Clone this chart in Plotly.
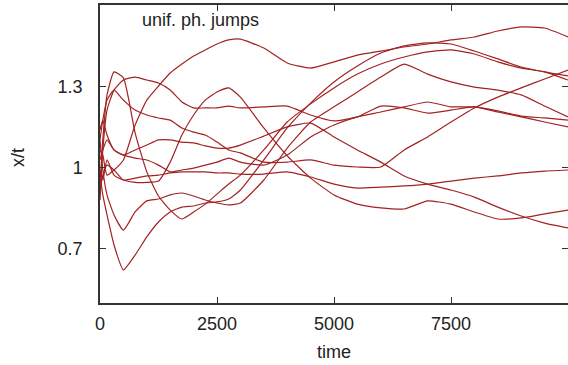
import plotly.graph_objects as go

# time grid (same for every run)
time = [0, 60, 150, 300, 500, 750, 1000, 1250, 1500, 1750, 2000, 2250, 2500, 2750,
        3000, 3500, 4000, 4500, 5000, 5500, 6000, 6500, 7000, 7500, 8000, 8500,
        9000, 9500, 10000]

# x/t for ten runs
run_01 = [1.065, 1.046, 0.972, 0.991, 1.028, 1.157, 1.249, 1.301, 1.349, 1.382, 1.412, 1.434, 1.456, 1.471,
          1.474, 1.441, 1.386, 1.367, 1.390, 1.415, 1.430, 1.445, 1.456, 1.471, 1.482, 1.504, 1.519, 1.515, 1.482]
run_02 = [0.935, 1.102, 1.268, 1.353, 1.331, 1.128, 0.984, 0.895, 0.843, 0.810, 0.836, 0.865, 0.902, 0.939,
          0.972, 1.065, 1.168, 1.235, 1.294, 1.345, 1.382, 1.408, 1.427, 1.434, 1.419, 1.390, 1.367, 1.353, 1.323]
run_03 = [0.991, 0.954, 1.028, 0.972, 0.954, 0.945, 0.945, 0.950, 1.020, 1.120, 1.194, 1.249, 1.279, 1.294,
          1.260, 1.146, 1.043, 0.961, 0.899, 0.865, 0.851, 0.847, 0.877, 0.865, 0.836, 0.810, 0.814, 0.829, 0.843]
run_04 = [1.028, 1.065, 1.102, 1.065, 1.046, 1.035, 1.028, 1.009, 0.984, 0.991, 0.998, 1.009, 1.020, 1.035,
          1.020, 1.009, 1.046, 1.113, 1.157, 1.187, 1.205, 1.224, 1.242, 1.224, 1.224, 1.205, 1.187, 1.168, 1.150]
run_05 = [0.880, 1.065, 1.212, 1.286, 1.323, 1.334, 1.323, 1.312, 1.286, 1.242, 1.220, 1.220, 1.220, 1.227,
          1.220, 1.224, 1.227, 1.194, 1.172, 1.187, 1.227, 1.220, 1.201, 1.212, 1.224, 1.209, 1.190, 1.183, 1.175]
run_06 = [0.972, 0.899, 0.825, 0.714, 0.622, 0.677, 0.744, 0.799, 0.836, 0.854, 0.858, 0.869, 0.873, 0.884,
          0.917, 1.028, 1.146, 1.238, 1.316, 1.375, 1.423, 1.449, 1.460, 1.456, 1.430, 1.401, 1.371, 1.353, 1.338]
run_07 = [1.102, 0.991, 0.899, 0.825, 0.769, 0.836, 0.877, 0.884, 0.899, 0.906, 0.895, 0.880, 0.869, 0.862,
          0.869, 0.954, 1.072, 1.168, 1.224, 1.279, 1.334, 1.382, 1.345, 1.316, 1.297, 1.286, 1.268, 1.227, 1.187]
run_08 = [0.917, 0.972, 1.009, 0.991, 0.954, 0.961, 0.969, 0.972, 0.980, 0.984, 0.984, 0.984, 0.980, 0.980,
          0.976, 0.976, 0.984, 0.965, 0.939, 0.924, 0.928, 0.932, 0.939, 0.950, 0.961, 0.969, 0.980, 0.987, 0.991]
run_09 = [1.139, 1.175, 1.120, 1.065, 1.046, 1.065, 1.083, 1.102, 1.102, 1.094, 1.091, 1.080, 1.072, 1.072,
          1.083, 1.116, 1.150, 1.164, 1.113, 1.065, 1.020, 0.969, 0.939, 0.917, 0.891, 0.854, 0.821, 0.795, 0.777]
run_10 = [1.102, 1.175, 1.249, 1.286, 1.249, 1.212, 1.194, 1.183, 1.175, 1.146, 1.131, 1.120, 1.094, 1.065,
          1.054, 1.020, 1.020, 1.028, 1.009, 1.002, 1.002, 1.065, 1.113, 1.168, 1.220, 1.260, 1.294, 1.327, 1.360]

runs = [run_01, run_02, run_03, run_04, run_05, run_06, run_07, run_08, run_09, run_10]

x_ticks = [0, 2500, 5000, 7500]
y_ticks = [0.7, 1, 1.3]
y_tick_text = ["0.7", "1", "1.3"]

FONT = "Liberation Sans, Arial, Helvetica, sans-serif"
LINE_COLOR = "#a32222"
AXIS_COLOR = "#333333"
TEXT_COLOR = "#222222"

fig = go.Figure()
for ys in runs:
    fig.add_trace(go.Scatter(
        x=time, y=ys, mode="lines",
        line=dict(color=LINE_COLOR, width=1.2, shape="spline", smoothing=0.5),
        showlegend=False, hoverinfo="skip"))

axis_common = dict(
    ticks="inside", ticklen=6, tickwidth=1, tickcolor=AXIS_COLOR,
    showline=True, linecolor=AXIS_COLOR, linewidth=1.5, mirror="ticks",
    showgrid=False, zeroline=False, automargin=False,
    tickfont=dict(family=FONT, size=18, color=TEXT_COLOR),
)

fig.update_layout(
    width=568, height=365,
    margin=dict(l=100, r=0, t=5, b=62, autoexpand=False),
    paper_bgcolor="white", plot_bgcolor="white",
    font=dict(family=FONT, size=18, color=TEXT_COLOR),
    xaxis=dict(range=[0, 10000], tickvals=x_ticks, ticktext=[str(v) for v in x_ticks],
               ticklabelstandoff=4, **axis_common),
    yaxis=dict(range=[0.5, 1.6], tickvals=y_ticks, ticktext=y_tick_text,
               ticklabelstandoff=12, **axis_common),
    annotations=[
        dict(text="unif. ph. jumps", xref="paper", yref="paper", x=0.085, y=0.95,
             xanchor="left", yanchor="middle", showarrow=False,
             font=dict(family=FONT, size=18, color=TEXT_COLOR)),
        dict(text="time", xref="paper", yref="paper", x=0.5, y=-0.164,
             xanchor="center", yanchor="middle", showarrow=False,
             font=dict(family=FONT, size=18, color=TEXT_COLOR)),
        dict(text="x/t", xref="paper", yref="paper", x=-0.175, y=0.487,
             xanchor="center", yanchor="middle", showarrow=False, textangle=-90,
             font=dict(family=FONT, size=18, color=TEXT_COLOR)),
    ],
)

fig.write_html("out.html", config={"displayModeBar": False},
               post_script="document.body.style.margin='0';")
